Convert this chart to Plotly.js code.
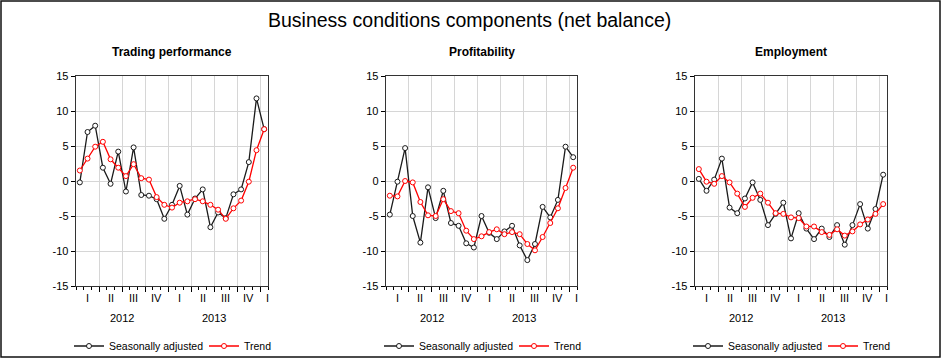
<!DOCTYPE html>
<html><head><meta charset="utf-8">
<script src="https://cdn.plot.ly/plotly-3.0.1.min.js"></script>
<style>html,body{margin:0;padding:0;background:#fff}#chart{width:942px;height:363px}</style>
</head><body><div id="chart"></div>
<script>
// ---- data ----
const months = ['Jan 2012','Feb 2012','Mar 2012','Apr 2012','May 2012','Jun 2012','Jul 2012','Aug 2012','Sep 2012','Oct 2012','Nov 2012','Dec 2012',
                'Jan 2013','Feb 2013','Mar 2013','Apr 2013','May 2013','Jun 2013','Jul 2013','Aug 2013','Sep 2013','Oct 2013','Nov 2013','Dec 2013','Jan 2014'];
const panelTitles = ['Trading performance','Profitability','Employment'];
const seriesNames = ['Seasonally adjusted','Trend'];

const tradingSA    = [-0.2, 7.0, 7.9, 1.9, -0.4, 4.2, -1.5, 4.8, -2.0, -2.1, -2.6, -5.4, -3.4, -0.7, -4.8, -2.5, -1.2, -6.6, -4.5, -5.3, -1.9, -1.2, 2.7, 11.8, 7.4];
const tradingTrend = [1.5, 3.2, 4.9, 5.6, 3.1, 1.9, 0.7, 2.4, 0.4, 0.2, -2.3, -3.4, -3.8, -3.1, -2.9, -2.6, -2.9, -3.4, -4.1, -5.4, -3.9, -2.8, -0.1, 4.4, 7.4];

const profitSA     = [-4.8, -0.1, 4.7, -5.0, -8.8, -0.9, -5.3, -1.4, -6.0, -6.4, -8.9, -9.5, -5.0, -7.4, -8.3, -7.2, -6.4, -9.2, -11.3, -9.0, -3.7, -5.2, -2.7, 4.9, 3.4];
const profitTrend  = [-2.1, -2.2, 0.0, -0.2, -3.0, -4.9, -5.0, -2.6, -4.3, -4.6, -7.1, -8.3, -7.9, -7.3, -6.9, -7.6, -7.3, -7.6, -9.0, -9.9, -8.0, -6.0, -3.9, -1.0, 1.9];

const employSA     = [0.3, -1.4, 0.2, 3.2, -3.8, -4.6, -2.5, -0.2, -2.7, -6.3, -4.7, -3.1, -8.2, -4.6, -6.8, -8.3, -6.8, -8.0, -6.3, -9.1, -6.3, -3.3, -6.8, -4.0, 0.9];
const employTrend  = [1.7, -0.1, -0.4, 0.7, -0.2, -1.8, -3.7, -2.4, -1.8, -3.1, -4.6, -4.7, -5.2, -5.3, -6.5, -6.5, -7.3, -7.7, -6.9, -7.8, -7.2, -6.2, -5.5, -4.7, -3.3];

const yTickVals = [-15, -10, -5, 0, 5, 10, 15];
const yTickText = ['-15', '-10', '-5', '0', '5', '10', '15'];
const quarterLabels = ['I', 'II', 'III', 'IV', 'I', 'II', 'III', 'IV', 'I'];
const yearLabels = ['2012', '2013'];

// ---- layout helpers ----
const W = 942, H = 363;
const px = v => v / W, py = v => 1 - v / H;
const panels = [
  {l: 76, r: 268, sa: tradingSA, tr: tradingTrend},
  {l: 386, r: 577, sa: profitSA, tr: profitTrend},
  {l: 695, r: 887, sa: employSA, tr: employTrend}
];
const plotTop = 76, plotBottom = 286;
const xIdx = months.map((m, i) => i);
const quarterBounds = [2.5, 5.5, 8.5, 11.5, 14.5, 17.5, 20.5, 23.5];
const quarterCenters = [1, 4, 7, 10, 13, 16, 19, 22, 24.4];
const yearCenters = [5.5, 17.5];
const FONT = 'Liberation Sans, Arial, sans-serif';

const traces = [];
const layout = {
  width: W, height: H,
  margin: {l: 0, r: 0, t: 0, b: 0},
  paper_bgcolor: '#fff', plot_bgcolor: '#fff',
  font: {family: FONT, size: 11, color: '#000'},
  showlegend: true,
  annotations: [], shapes: []
};

layout.annotations.push({
  text: 'Business conditions components (net balance)', xref: 'paper', yref: 'paper',
  x: px(469), y: py(20), xanchor: 'center', yanchor: 'middle', showarrow: false,
  font: {family: FONT, size: 19.5, color: '#000'}
});
layout.shapes.push({type: 'rect', xref: 'paper', yref: 'paper', x0: px(1), x1: px(940), y0: py(357), y1: py(1),
  line: {color: '#111', width: 1.5}});

panels.forEach((p, i) => {
  const n = i === 0 ? '' : String(i + 1);
  const xa = 'x' + n, ya = 'y' + n;
  const lg = 'legend' + n;
  traces.push({
    x: xIdx, y: p.sa, xaxis: xa, yaxis: ya, name: seriesNames[0], legend: lg, legendwidth: 90,
    type: 'scatter', mode: 'lines+markers',
    line: {color: '#1a1a1a', width: 1.3},
    marker: {symbol: 'circle', size: 5, color: '#fff', line: {color: '#1a1a1a', width: 1}}
  });
  traces.push({
    x: xIdx, y: p.tr, xaxis: xa, yaxis: ya, name: seriesNames[1], legend: lg,
    type: 'scatter', mode: 'lines+markers',
    line: {color: '#ff0000', width: 1.3},
    marker: {symbol: 'circle', size: 5, color: '#fff', line: {color: '#ff0000', width: 1}}
  });
  layout['xaxis' + n] = {
    domain: [px(p.l), px(p.r)], anchor: ya, range: [-0.5, 24.5],
    tickvals: quarterBounds, showticklabels: false,
    ticks: 'outside', ticklen: 5, tickcolor: '#000', tickwidth: 1,
    minor: {dtick: 1, tick0: -0.5, ticks: 'outside', ticklen: 3, tickcolor: '#000', showgrid: false},
    showgrid: true, gridcolor: '#d6d6d6', gridwidth: 1,
    showline: true, mirror: true, linecolor: '#333', linewidth: 1.3, zeroline: false, fixedrange: true
  };
  layout['yaxis' + n] = {
    domain: [py(plotBottom), py(plotTop)], anchor: xa, range: [-15, 15],
    tickvals: yTickVals, ticktext: yTickText,
    ticks: 'outside', ticklen: 4, tickcolor: '#000',
    tickfont: {family: FONT, size: 11, color: '#000'},
    showgrid: true, gridcolor: '#d6d6d6', gridwidth: 1,
    showline: true, mirror: true, linecolor: '#333', linewidth: 1.3, zeroline: false, fixedrange: true
  };
  layout[lg] = {
    orientation: 'h', x: px(p.l - 7), xanchor: 'left', y: py(346), yanchor: 'middle',
    font: {family: FONT, size: 10.5, color: '#000'}, bgcolor: 'rgba(0,0,0,0)',
    itemwidth: 30, tracegroupgap: 0
  };
  layout.annotations.push({
    text: '<b>' + panelTitles[i] + '</b>', xref: 'paper', yref: 'paper',
    x: px((p.l + p.r) / 2), y: py(52), xanchor: 'center', yanchor: 'middle', showarrow: false,
    font: {family: FONT, size: 12, color: '#000'}
  });
  quarterLabels.forEach((q, k) => {
    layout.annotations.push({text: q, xref: xa, yref: 'paper', x: quarterCenters[k], y: py(298),
      xanchor: 'center', yanchor: 'middle', showarrow: false, font: {family: FONT, size: 11, color: '#000'}});
  });
  yearLabels.forEach((yv, k) => {
    layout.annotations.push({text: yv, xref: xa, yref: 'paper', x: yearCenters[k], y: py(318),
      xanchor: 'center', yanchor: 'middle', showarrow: false, font: {family: FONT, size: 11, color: '#000'}});
  });
});

Plotly.newPlot('chart', traces, layout, {displayModeBar: false, staticPlot: true});
</script></body></html>
